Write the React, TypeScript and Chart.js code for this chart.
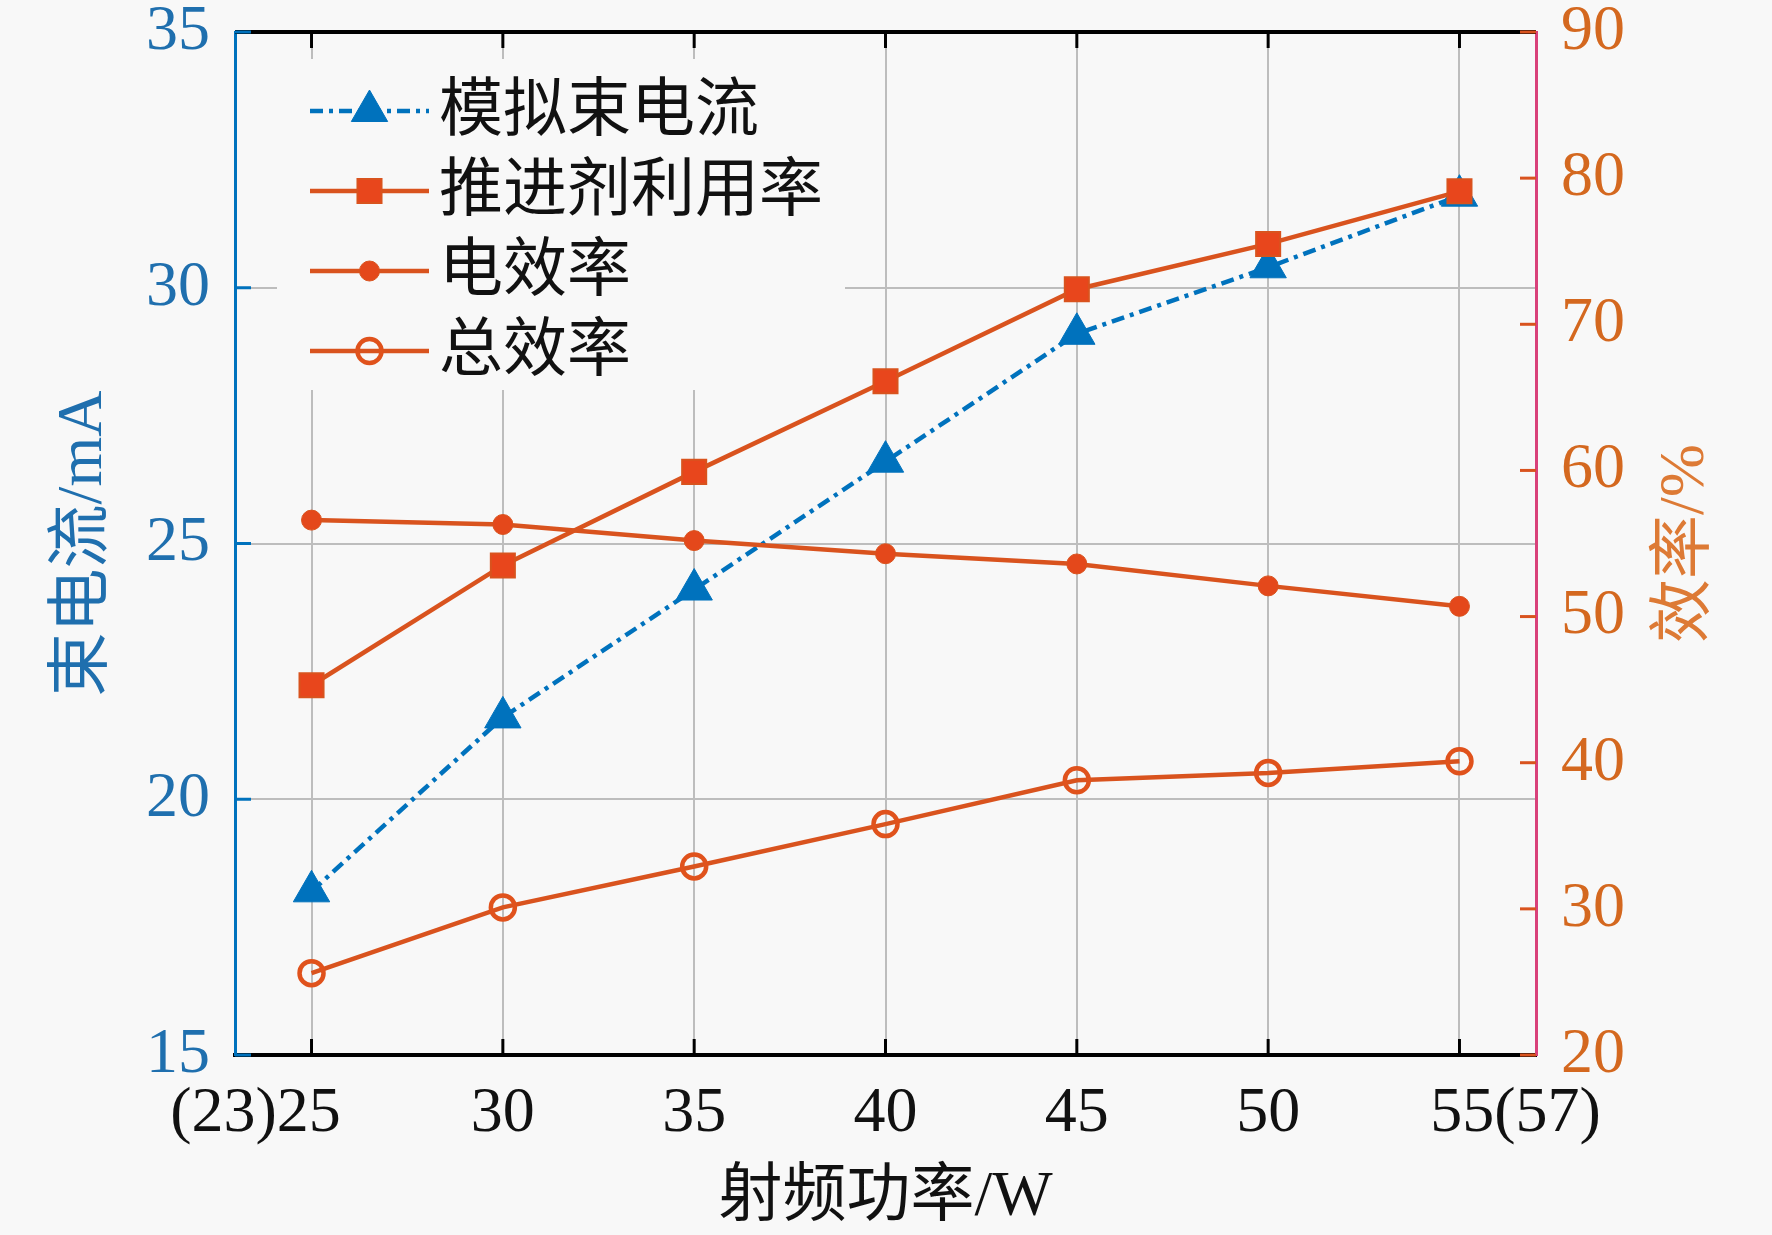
import React, { useEffect, useRef } from 'react'
import { Chart, registerables, type ChartConfiguration, type Plugin } from 'chart.js'
import { drawPoint } from 'chart.js/helpers'

Chart.register(...registerables)

// RF power (W) and the values
const POWER = [25, 30, 35, 40, 45, 50, 55]
const X_TICKS = [25, 30, 35, 40, 45, 50, 55]
const X_LABELS = ['(23)25', '30', '35', '40', '45', '50', '55(57)']
const BEAM_CURRENT = [18.2, 21.6, 24.1, 26.6, 29.1, 30.4, 31.8]      // mA
const PROPELLANT_UTIL = [45.3, 53.5, 59.9, 66.1, 72.4, 75.5, 79.1]   // %
const ELEC_EFF = [56.6, 56.3, 55.2, 54.3, 53.6, 52.1, 50.7]          // %
const TOTAL_EFF = [25.6, 30.1, 32.9, 35.8, 38.8, 39.3, 40.1]         // %

const SERIES_NAMES = ['模拟束电流', '推进剂利用率', '电效率', '总效率']
const X_TITLE = '射频功率/W'
const Y_TITLE = '束电流/mA'
const Y1_TITLE = '效率/%'

const FONT = "'Liberation Serif', 'Noto Sans CJK SC', serif"
const BG = '#f8f8f8'
const BLUE = '#0072bd'
const BLUE_TEXT = '#1f6fae'
const ORANGE = '#d9531e'
const ORANGE_TEXT = '#d4681f'
const PINK = '#d9417a'
const GRID = '#bdbdbd'
// en spaces so that "25" / "55" stay centred on their ticks
const PAD = '\u2002\u2002\u2002 '

const pts = (vals: number[]) => vals.map((v, i) => ({ x: POWER[i], y: v }))

const frame: Plugin = {
  id: 'frame',
  beforeDatasetsDraw(chart) {
    const { ctx, chartArea: ca } = chart
    ctx.save()
    ctx.fillStyle = BG
    ctx.fillRect(ca.left + 42, ca.top + 27, 568, 331)
    chart.data.datasets.forEach((ds: any, i) => {
      const cy = ca.top + 79 + i * 80
      const x0 = ca.left + 75
      const x1 = ca.left + 194
      ctx.strokeStyle = ds.borderColor
      ctx.lineWidth = ds.borderWidth
      ctx.setLineDash(ds.borderDash || [])
      ctx.beginPath()
      ctx.moveTo(x0, cy)
      ctx.lineTo(x1, cy)
      ctx.stroke()
      ctx.setLineDash([])
      ctx.fillStyle = ds.pointBackgroundColor
      ctx.strokeStyle = ds.pointBorderColor
      ctx.lineWidth = ds.pointBorderWidth
      drawPoint(ctx, { pointStyle: ds.pointStyle, radius: ds.pointRadius, borderWidth: ds.pointBorderWidth, rotation: 0 } as any, (x0 + x1) / 2, cy)
      ctx.fillStyle = '#111'
      ctx.font = `64px ${FONT}`
      ctx.textAlign = 'left'
      ctx.textBaseline = 'middle'
      ctx.fillText(ds.label, ca.left + 204, cy + 2)
    })
    ctx.restore()
  },
  afterDraw(chart) {
    const { ctx, chartArea: ca } = chart
    const { x, y, y1 } = chart.scales
    const seg = (ax: number, ay: number, bx: number, by: number) => {
      ctx.beginPath(); ctx.moveTo(ax, ay); ctx.lineTo(bx, by); ctx.stroke()
    }
    ctx.save()
    // top frame
    ctx.strokeStyle = '#000'
    ctx.lineWidth = 4
    seg(ca.left, ca.top, ca.right, ca.top)
    // inward tick marks
    ctx.lineWidth = 3
    x.ticks.forEach(t => {
      const px = x.getPixelForValue(t.value)
      seg(px, ca.bottom, px, ca.bottom - 16)
      seg(px, ca.top, px, ca.top + 16)
    })
    ctx.strokeStyle = BLUE
    y.ticks.forEach(t => {
      const py = y.getPixelForValue(t.value)
      seg(ca.left, py, ca.left + 16, py)
    })
    ctx.strokeStyle = ORANGE
    y1.ticks.forEach(t => {
      const py = y1.getPixelForValue(t.value)
      seg(ca.right - 16, py, ca.right, py)
    })
    // right title reads bottom to top
    ctx.translate(ca.right + 150, (ca.top + ca.bottom) / 2)
    ctx.rotate(-Math.PI / 2)
    ctx.fillStyle = '#dd7a35'
    ctx.font = `64px ${FONT}`
    ctx.textAlign = 'center'
    ctx.textBaseline = 'middle'
    ctx.fillText(Y1_TITLE, 0, 0)
    ctx.restore()
  },
}

export default function App() {
  const canvasRef = useRef<HTMLCanvasElement>(null)
  const chartRef = useRef<Chart | null>(null)

  useEffect(() => {
    if (!canvasRef.current) return
    chartRef.current?.destroy()

    const tickFont = { family: FONT, size: 64 }

    const cfg: ChartConfiguration<'line'> = {
      type: 'line',
      data: {
        datasets: [
          {
            label: SERIES_NAMES[0],
            data: pts(BEAM_CURRENT),
            yAxisID: 'y',
            order: 1,
            borderColor: BLUE,
            borderWidth: 4.5,
            borderDash: [13, 6, 4, 6],
            pointStyle: 'triangle',
            pointRadius: 21,
            pointBackgroundColor: BLUE,
            pointBorderColor: BLUE,
            pointBorderWidth: 1,
          },
          {
            label: SERIES_NAMES[1],
            data: pts(PROPELLANT_UTIL),
            yAxisID: 'y1',
            order: 0,
            borderColor: ORANGE,
            borderWidth: 4.5,
            pointStyle: 'rect',
            pointRadius: 17,
            pointBackgroundColor: '#e8461c',
            pointBorderColor: ORANGE,
            pointBorderWidth: 2,
          },
          {
            label: SERIES_NAMES[2],
            data: pts(ELEC_EFF),
            yAxisID: 'y1',
            order: 0,
            borderColor: ORANGE,
            borderWidth: 4.5,
            pointStyle: 'circle',
            pointRadius: 10,
            pointBackgroundColor: '#e4481b',
            pointBorderColor: ORANGE,
            pointBorderWidth: 1,
          },
          {
            label: SERIES_NAMES[3],
            data: pts(TOTAL_EFF),
            yAxisID: 'y1',
            order: 0,
            borderColor: ORANGE,
            borderWidth: 4.5,
            pointStyle: 'circle',
            pointRadius: 12,
            pointBackgroundColor: 'rgba(0,0,0,0)',
            pointBorderColor: '#e0521c',
            pointBorderWidth: 4.5,
          },
        ],
      },
      options: {
        responsive: true,
        maintainAspectRatio: false,
        animation: false,
        layout: { autoPadding: false, padding: { top: 32, left: 0, right: 0, bottom: 0 } },
        plugins: {
          legend: { display: false },
          tooltip: { enabled: false },
        },
        scales: {
          x: {
            type: 'linear',
            min: 23,
            max: 57,
            afterBuildTicks: s => { s.ticks = X_TICKS.map(v => ({ value: v })) },
            afterFit: s => { s.height = 180; s.paddingLeft = 0; s.paddingRight = 0 },
            ticks: {
              color: '#111',
              font: tickFont,
              padding: 21,
              maxRotation: 0,
              autoSkip: false,
              callback: (_v, i) => i === 0 ? X_LABELS[i] + PAD : i === X_LABELS.length - 1 ? PAD + X_LABELS[i] : X_LABELS[i],
            },
            grid: { color: GRID, lineWidth: 2, drawTicks: false },
            border: { color: '#000', width: 4 },
            title: { display: true, text: X_TITLE, color: '#111', font: tickFont, padding: { top: 0, bottom: -2 } },
          },
          y: {
            position: 'left',
            min: 15,
            max: 35,
            afterFit: s => { s.width = 235; s.paddingTop = 0; s.paddingBottom = 0 },
            ticks: { stepSize: 5, color: BLUE_TEXT, font: tickFont, padding: 25 },
            grid: { color: GRID, lineWidth: 2, drawTicks: false },
            border: { color: BLUE, width: 3 },
            title: { display: true, text: Y_TITLE, color: BLUE_TEXT, font: tickFont, padding: { top: 46, bottom: 0 } },
          },
          y1: {
            position: 'right',
            min: 20,
            max: 90,
            afterFit: s => { s.width = 236; s.paddingTop = 0; s.paddingBottom = 0 },
            ticks: { stepSize: 10, color: ORANGE_TEXT, font: tickFont, padding: 25 },
            grid: { drawOnChartArea: false, drawTicks: false },
            border: { color: PINK, width: 3 },
          },
        },
      },
      plugins: [frame],
    }
    chartRef.current = new Chart(canvasRef.current, cfg)
    return () => { chartRef.current?.destroy() }
  }, [])

  return (
    <div style={{ position: 'fixed', left: 0, top: 0, width: 1772, height: 1235, background: BG }}>
      <canvas ref={canvasRef} />
    </div>
  )
}
